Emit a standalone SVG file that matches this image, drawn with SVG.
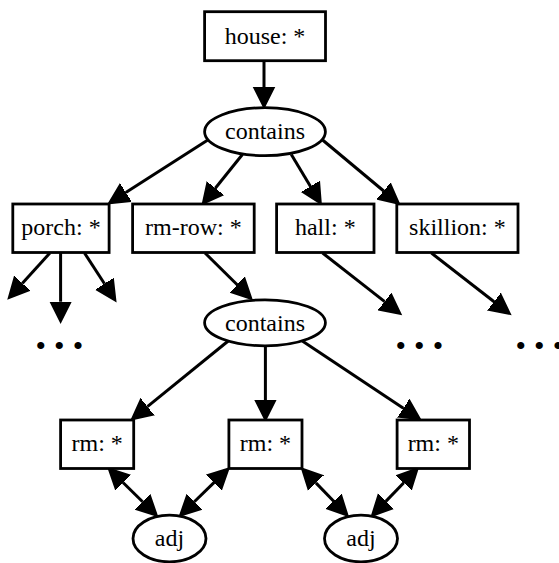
<svg xmlns="http://www.w3.org/2000/svg" width="559" height="563" viewBox="0 0 559 563">
<defs>
<marker id="ah" viewBox="0 -12 23 24" refX="0" refY="0" markerWidth="23" markerHeight="24" markerUnits="userSpaceOnUse" orient="auto-start-reverse">
<path d="M0,-10 L20,0 L0,10 Z" fill="#000" stroke="#000" stroke-width="2" stroke-linejoin="miter"/>
</marker>
</defs>
<style>
.box{fill:#fff;stroke:#000;stroke-width:2.8}
.ell{fill:#fff;stroke:#000;stroke-width:2.8}
.lbl{font-family:"Liberation Serif","Times New Roman",serif;font-size:24px;fill:#000;text-anchor:middle}
.dots{font-family:"Liberation Serif","Times New Roman",serif;font-size:30px;fill:#000;text-anchor:middle}
.e{fill:none;stroke:#000;stroke-width:3;marker-end:url(#ah)}
.d{fill:none;stroke:#000;stroke-width:3;marker-start:url(#ah);marker-end:url(#ah)}
</style>
<rect width="559" height="563" fill="#fff"/>
<g id="edges">
<path class="e" d="M264,61 L264,87.3"/>
<path class="e" d="M207.8,140 L125.8,192.6"/>
<path class="e" d="M242.4,154.5 L215.3,188.2"/>
<path class="e" d="M291.3,154.5 L310.5,186.4"/>
<path class="e" d="M322.6,140 L383.7,191"/>
<path class="e" d="M49.9,253 L22.2,283.4"/>
<path class="e" d="M60.6,253 L60.6,301.7"/>
<path class="e" d="M84.5,253 L104.5,283.8"/>
<path class="e" d="M205,253 L237.2,284.8"/>
<path class="e" d="M322.6,253 L384.7,301.6"/>
<path class="e" d="M431.4,253 L494.1,301.7"/>
<path class="e" d="M228.2,341 L147.4,406.7"/>
<path class="e" d="M265.4,345.7 L265.4,400"/>
<path class="e" d="M302.3,341 L403.4,408.2"/>
<path class="d" d="M123,482.5 L142.6,501.7"/>
<path class="d" d="M214.2,482.4 L194.3,501.8"/>
<path class="d" d="M315.9,482.9 L333.7,501.3"/>
<path class="d" d="M403.8,482.8 L385.8,501.4"/>
</g>
<g id="house"><rect class="box" x="204.6" y="11.7" width="120.9" height="49"/><text class="lbl" x="265" y="44">house: *</text></g>
<g id="contains1"><ellipse class="ell" cx="265" cy="131.7" rx="60.4" ry="24"/><text class="lbl" x="265" y="139">contains</text></g>
<g id="porch"><rect class="box" x="12.8" y="204" width="96.3" height="48.5"/><text class="lbl" x="61" y="235">porch: *</text></g>
<g id="rmrow"><rect class="box" x="132.6" y="204" width="121.6" height="48.5"/><text class="lbl" x="193.4" y="235">rm-row: *</text></g>
<g id="hall"><rect class="box" x="276.6" y="204" width="97.4" height="48.5"/><text class="lbl" x="325.3" y="235">hall: *</text></g>
<g id="skillion"><rect class="box" x="396.8" y="204" width="121.2" height="48.5"/><text class="lbl" x="457.4" y="235">skillion: *</text></g>
<g id="contains2"><ellipse class="ell" cx="265" cy="322.8" rx="60.4" ry="23"/><text class="lbl" x="265" y="330.5">contains</text></g>
<g id="dots1"><text class="dots" x="40.7 59.3 78" y="356">•••</text></g>
<g id="dots2"><text class="dots" x="400.7 419.3 438" y="356">•••</text></g>
<g id="dots3"><text class="dots" x="520.7 539.3 558" y="356">•••</text></g>
<g id="rm1"><rect class="box" x="60.6" y="420" width="73.1" height="48.5"/><text class="lbl" x="97.2" y="451">rm: *</text></g>
<g id="rm2"><rect class="box" x="228.9" y="420" width="73.1" height="48.5"/><text class="lbl" x="265.4" y="451">rm: *</text></g>
<g id="rm3"><rect class="box" x="397.1" y="420" width="72.4" height="48.5"/><text class="lbl" x="433.3" y="451">rm: *</text></g>
<g id="adj1"><ellipse class="ell" cx="169.5" cy="538.5" rx="36.5" ry="23.3"/><text class="lbl" x="169.5" y="546">adj</text></g>
<g id="adj2"><ellipse class="ell" cx="361" cy="538.5" rx="36.5" ry="23.3"/><text class="lbl" x="361" y="546">adj</text></g>
</svg>
